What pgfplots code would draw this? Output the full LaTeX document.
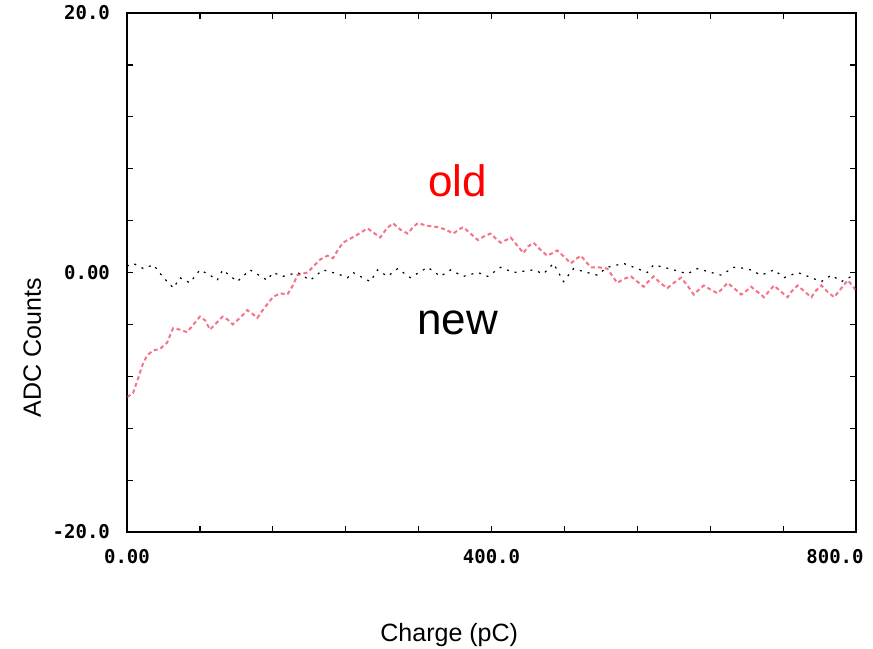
\documentclass[border=0pt]{standalone}
\usepackage{fontspec}
\setmainfont{Liberation Sans}
\newfontfamily\tickfont{DejaVu Sans Mono}
\usepackage{pgfplots}
\pgfplotsset{compat=1.18}
\definecolor{oldred}{RGB}{240,40,70}

\begin{document}
\begin{tikzpicture}
\begin{axis}[
    name=ax,
    scale only axis,
    clip mode=individual,
    width=364.5pt, height=259.5pt,
    xmin=0, xmax=800, ymin=-20, ymax=20,
    xtick={0,80,...,800},
    xticklabels={0.00,,,,,400.0,,,,,\makebox[0pt][c]{\hspace{-21pt}800.0}},
    ytick={-20,-16,...,20},
    yticklabels={-20.0,,,,,0.00,,,,,20.0},
    tick align=inside,
    major tick length=3pt,
    tick style={line width=0.6pt, black},
    axis line style={line width=1pt},
    ticklabel style={font=\tickfont\bfseries\fontsize{9.5}{10}\selectfont},
    xticklabel style={yshift=-5pt},
    yticklabel style={xshift=-5pt},
]
\addplot[black, line width=0.6pt, dash pattern=on 1pt off 3pt] coordinates {
(0,0.5)(7,0.7)(18,0.3)(29,0.6)(40,-0.4)(51,-1.2)(58,-0.4)(69,-0.8)(80,0.2)(91,-0.2)
(99,-0.6)(105,0.2)(121,-0.7)(135,0.2)(154,-0.6)(160,0)(171,-0.3)(187,0)(201,-0.6)(215,0.2)
(231,-0.1)(242,-0.4)(248,0)(267,-0.7)(275,0.2)(286,-0.3)(297,0.3)(311,-0.4)(330,0.4)(344,-0.3)
(355,0.2)(369,-0.3)(385,0)(396,-0.3)(410,0.4)(424,0)(446,0.2)(457,-0.1)(468,0.7)(479,-0.7)
(490,0.3)(505,0)(516,-0.2)(527,0.4)(545,0.7)(560,0.3)(571,0)(578,0.6)(600,0.2)(615,-0.1)
(626,0.3)(641,0)(652,-0.2)(666,0.4)(681,0.3)(696,-0.2)(710,0.2)(721,-0.4)(736,0)(751,-0.4)
(762,-0.7)(773,-0.2)(784,-0.7)(795,-0.3)(800,-0.5)
};
\addplot[oldred, opacity=0.65, line width=1pt, dash pattern=on 2pt off 1.5pt] coordinates {
(0,-9.6)(6.6,-9.3)(12,-8.2)(17.6,-7.0)(22,-6.4)(28.6,-6.0)(36,-5.9)(44,-5.4)(50.5,-4.3)(58,-4.4)
(66,-4.6)(73,-4.0)(80,-3.4)(86,-3.7)(91,-4.4)(98,-3.9)(105,-3.4)(110,-3.6)(116,-4.0)(124,-3.5)
(132,-2.9)(138,-3.2)(143,-3.5)(150,-2.8)(160,-1.9)(168,-1.6)(176,-1.7)(182,-1.0)(187,-0.2)(192,-0.1)
(198,0)(205,0.5)(212,1.0)(220,1.3)(226,1.1)(232,1.8)(237,2.3)(250,2.8)(264,3.4)(270,3.1)
(278,2.7)(285,3.4)(292,3.8)(300,3.3)(308,3.0)(314,3.5)(319,3.8)(330,3.6)(341,3.5)(350,3.3)
(358,3.0)(364,3.3)(369,3.5)(377,3.0)(385,2.5)(392,2.8)(399,3.0)(405,2.6)(410,2.3)(416,2.5)
(421,2.7)(428,2.1)(435,1.5)(440,2.0)(446,2.3)(453,1.8)(461,1.3)(467,1.5)(472,1.7)(480,1.2)
(487,0.7)(492,1.0)(498,1.3)(504,0.8)(509,0.4)(518,0.4)(527,0.3)(533,-0.3)(538,-0.8)(545,-0.5)
(553,-0.3)(560,-0.7)(567,-1.1)(572,-0.7)(578,-0.3)(585,-0.8)(593,-1.2)(600,-0.8)(608,-0.4)(615,-1.0)
(622,-1.7)(628,-1.3)(633,-1.0)(640,-1.3)(648,-1.6)(654,-1.2)(659,-0.8)(666,-1.2)(674,-1.7)(680,-1.4)
(685,-1.1)(692,-1.5)(699,-1.9)(705,-1.4)(710,-1.0)(718,-1.5)(725,-1.9)(730,-1.4)(736,-1.0)(744,-1.5)
(751,-1.9)(756,-1.4)(762,-1.0)(769,-1.5)(776,-1.9)(784,-1.2)(791,-0.6)(796,-1.0)(800,-1.4)
};
\node[red, font=\fontsize{22}{24}\selectfont] at (axis cs:363,7.1) {old};
\node[black, font=\fontsize{22}{24}\selectfont] at (axis cs:363,-3.9) {new};
\node[rotate=90, font=\fontsize{12.5}{14}\selectfont] at (axis description cs:-0.130,0.355) {ADC Counts};
\node[font=\fontsize{12.5}{14}\selectfont] at (axis description cs:0.442,-0.198) {Charge (pC)};
\end{axis}
\pgfresetboundingbox
\path ([shift={(-63.5pt,-58pt)}]ax.south west) rectangle ([shift={(8.5pt,6.5pt)}]ax.north east);
\end{tikzpicture}
\end{document}
